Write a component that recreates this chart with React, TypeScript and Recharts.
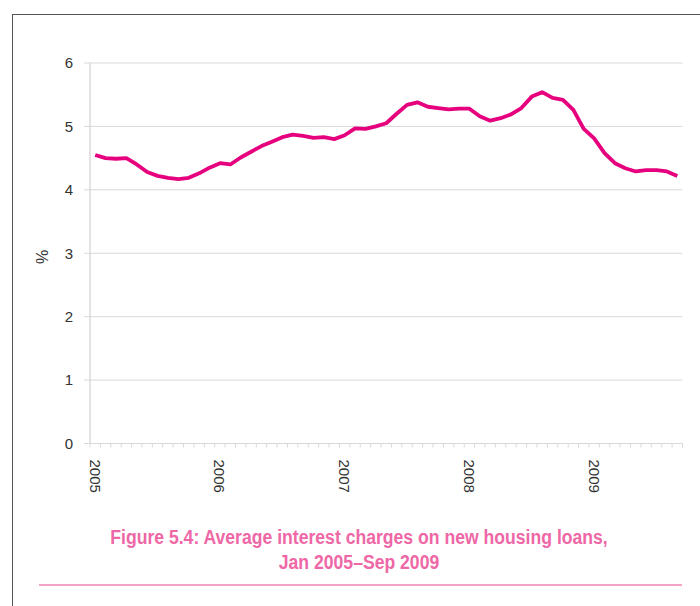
import React from 'react';
import { LineChart, Line, XAxis, YAxis, CartesianGrid } from 'recharts';

const months: string[] = [
  'Jan 2005','Feb 2005','Mar 2005','Apr 2005','May 2005','Jun 2005','Jul 2005','Aug 2005','Sep 2005','Oct 2005','Nov 2005','Dec 2005',
  'Jan 2006','Feb 2006','Mar 2006','Apr 2006','May 2006','Jun 2006','Jul 2006','Aug 2006','Sep 2006','Oct 2006','Nov 2006','Dec 2006',
  'Jan 2007','Feb 2007','Mar 2007','Apr 2007','May 2007','Jun 2007','Jul 2007','Aug 2007','Sep 2007','Oct 2007','Nov 2007','Dec 2007',
  'Jan 2008','Feb 2008','Mar 2008','Apr 2008','May 2008','Jun 2008','Jul 2008','Aug 2008','Sep 2008','Oct 2008','Nov 2008','Dec 2008',
  'Jan 2009','Feb 2009','Mar 2009','Apr 2009','May 2009','Jun 2009','Jul 2009','Aug 2009','Sep 2009',
];

const rates: number[] = [
  4.55, 4.50, 4.49, 4.50, 4.40, 4.28, 4.22, 4.19, 4.17, 4.19, 4.26, 4.35,
  4.42, 4.40, 4.51, 4.60, 4.69, 4.76, 4.83, 4.87, 4.85, 4.82, 4.83, 4.80,
  4.86, 4.97, 4.96, 5.00, 5.05, 5.20, 5.34, 5.38, 5.31, 5.29, 5.27, 5.28,
  5.28, 5.16, 5.09, 5.13, 5.19, 5.29, 5.47, 5.54, 5.45, 5.42, 5.26, 4.96,
  4.81, 4.58, 4.42, 4.34, 4.29, 4.31, 4.31, 4.29, 4.22,
];

const yTicks: number[] = [0, 1, 2, 3, 4, 5, 6];

const titleLines: string[] = [
  'Figure 5.4: Average interest charges on new housing loans,',
  'Jan 2005\u2013Sep 2009',
];

const data = months.map((m, i) => ({ m, v: rates[i] }));

const GRID = '#d9d9d9';
const TEXT = '#333333';
const FONT = "'Liberation Sans', Arial, sans-serif";

const XTick = (props: any) => {
  const { x, y, payload, index } = props;
  const off = payload && payload.offset ? payload.offset : 0;
  const label: string = payload.value as string;
  const isJan = label.startsWith('Jan');
  const last = index === months.length - 1;
  return (
    <g>
      <line x1={x - off} x2={x - off} y1={y} y2={y + 4} stroke={GRID} strokeWidth={1} />
      {last && <line x1={x + off} x2={x + off} y1={y} y2={y + 4} stroke={GRID} strokeWidth={1} />}
      {isJan && (
        <text
          x={x}
          y={y + 16}
          transform={`rotate(90, ${x}, ${y + 16})`}
          textAnchor="start"
          dominantBaseline="central"
          fontFamily={FONT}
          fontSize={15}
          fill={TEXT}
        >
          {label.slice(4)}
        </text>
      )}
    </g>
  );
};

export default function App() {
  return (
    <div style={{ position: 'absolute', left: 0, top: 0, width: 700, height: 606, overflow: 'hidden', background: '#fff' }}>
      <div
        style={{
          position: 'absolute',
          left: 12,
          top: 14,
          width: 720,
          height: 620,
          borderTop: '1px solid #555',
          borderLeft: '1px solid #555',
        }}
      />
      <div style={{ position: 'absolute', left: 0, top: 0 }}>
        <LineChart
          width={700}
          height={606}
          data={data}
          margin={{ top: 63, right: 17.5, left: 30, bottom: 102.5 }}
        >
          <CartesianGrid vertical={false} stroke={GRID} strokeWidth={1} />
          <XAxis
            dataKey="m"
            scale="band"
            interval={0}
            height={60}
            axisLine={{ stroke: GRID, strokeWidth: 1 }}
            tickLine={false}
            tickSize={0}
            tickMargin={0}
            tick={<XTick />}
          />
          <YAxis
            width={60}
            domain={[0, 6]}
            ticks={yTicks}
            interval={0}
            axisLine={{ stroke: '#c8c8c8', strokeWidth: 1 }}
            tickLine={{ stroke: GRID, strokeWidth: 1 }}
            tickSize={6}
            tickMargin={11}
            tick={{ fontFamily: FONT, fontSize: 15, fill: TEXT }}
          />
          <Line
            type="linear"
            dataKey="v"
            stroke="#E6007E"
            strokeWidth={3.8}
            strokeLinejoin="round"
            dot={false}
            activeDot={false}
            isAnimationActive={false}
          />
        </LineChart>
      </div>
      <div
        style={{
          position: 'absolute',
          left: 43,
          top: 257,
          transform: 'translate(-50%, -50%) rotate(-90deg)',
          fontFamily: FONT,
          fontSize: 16,
          color: TEXT,
          lineHeight: '16px',
        }}
      >
        %
      </div>
      {titleLines.map((t, i) => (
        <div
          key={i}
          style={{
            position: 'absolute',
            left: 359,
            top: 524.5 + i * 25,
            transform: 'translateX(-50%) scaleX(0.88)',
            whiteSpace: 'nowrap',
            fontFamily: "'Liberation Sans Narrow', 'Arial Narrow', 'Liberation Sans', sans-serif",
            fontWeight: 'bold',
            fontSize: 20,
            lineHeight: '25px',
            color: '#EE67A6',
          }}
        >
          {t}
        </div>
      ))}
      <div
        style={{
          position: 'absolute',
          left: 39,
          top: 584,
          width: 643,
          height: 2,
          background: '#F5A3C7',
        }}
      />
    </div>
  );
}
